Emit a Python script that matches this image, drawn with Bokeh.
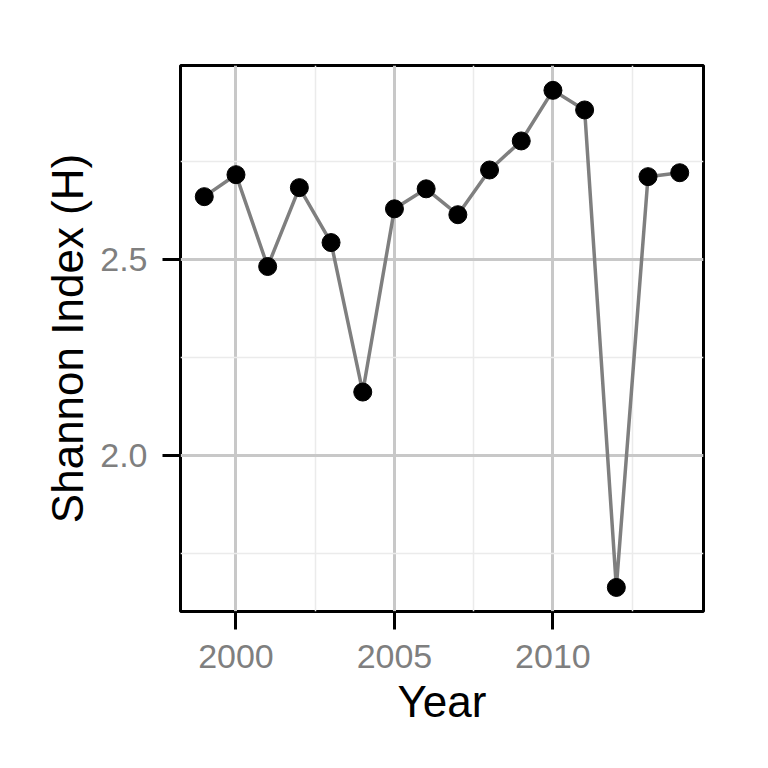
from bokeh.plotting import figure
from bokeh.models import FixedTicker, Range1d
from bokeh.embed import file_html
from bokeh.resources import INLINE

years = [1999, 2000, 2001, 2002, 2003, 2004, 2005, 2006, 2007, 2008, 2009, 2010, 2011, 2012, 2013, 2014]
shannon = [2.660, 2.716, 2.482, 2.683, 2.543, 2.162, 2.629, 2.680, 2.614, 2.728, 2.802, 2.931, 2.881, 1.664, 2.711, 2.721]
x_ticks = [2000, 2005, 2010]
x_minor = [1997.5, 2002.5, 2007.5, 2012.5]
y_ticks = [2.0, 2.5]
y_minor = [1.75, 2.25, 2.75]

FONT = "Liberation Sans"

p = figure(width=768, height=768, output_backend="svg", toolbar_location=None,
           x_range=Range1d(1998.25, 2014.75), y_range=Range1d(1.6027, 2.9943),
           min_border_left=180, min_border_right=65, min_border_top=65, min_border_bottom=157)
p.background_fill_color = "white"
p.border_fill_color = "white"
p.outline_line_color = "black"
p.outline_line_width = 3

p.xaxis.ticker = FixedTicker(ticks=x_ticks, minor_ticks=x_minor)
p.yaxis.ticker = FixedTicker(ticks=y_ticks, minor_ticks=y_minor)
p.yaxis.major_label_overrides = {2.0: "2.0", 2.5: "2.5"}

for ax in (p.xaxis, p.yaxis):
    ax.axis_line_color = None
    ax.major_tick_line_color = "black"
    ax.major_tick_line_alpha = 1.0
    ax.major_tick_line_width = 3
    ax.major_tick_out = 18
    ax.major_tick_in = 0
    ax.minor_tick_line_color = None
    ax.major_label_text_font = FONT
    ax.major_label_text_font_size = "34px"
    ax.major_label_text_color = "#7f7f7f"
    ax.axis_label_text_font = FONT
    ax.axis_label_text_font_size = "44px"
    ax.axis_label_text_font_style = "normal"
    ax.axis_label_text_color = "black"

p.xaxis.axis_label = "Year"
p.yaxis.axis_label = "Shannon Index (H)"
p.xaxis.major_label_standoff = 15
p.yaxis.major_label_standoff = 15
p.xaxis.axis_label_standoff = 6
p.yaxis.axis_label_standoff = 5

for g in (p.xgrid, p.ygrid):
    g.grid_line_color = "#c8c8c8"
    g.grid_line_width = 3
    g.minor_grid_line_color = "#ebebeb"
    g.minor_grid_line_width = 1.5

p.line(years, shannon, line_color="#7f7f7f", line_width=3.5)
p.scatter(years, shannon, size=18, fill_color="black", line_color="black")

open("out.html", "w").write(file_html(p, INLINE))
